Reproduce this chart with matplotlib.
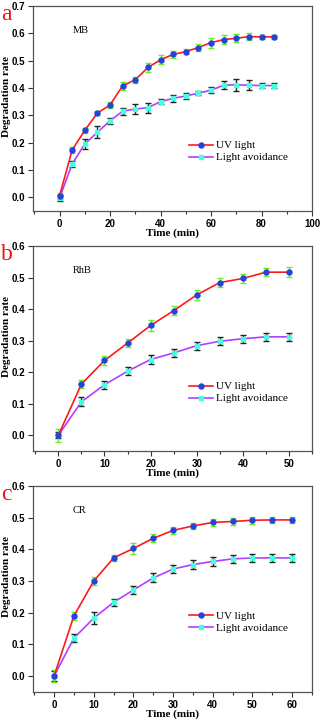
import matplotlib
matplotlib.use("Agg")
import matplotlib.pyplot as plt
from matplotlib.ticker import MultipleLocator, FormatStrFormatter
from matplotlib.lines import Line2D

# ---- data ----
t_a = [0, 5, 10, 15, 20, 25, 30, 35, 40, 45, 50, 55, 60, 65, 70, 75, 80, 85]
uv_a = [0.005, 0.173, 0.245, 0.308, 0.338, 0.408, 0.430, 0.475, 0.503, 0.523, 0.533, 0.548, 0.566, 0.577, 0.582, 0.588, 0.587, 0.587]
uv_a_err = [0.012, 0.012, 0.010, 0.008, 0.010, 0.015, 0.012, 0.018, 0.016, 0.012, 0.010, 0.014, 0.018, 0.016, 0.015, 0.012, 0.008, 0.008]
la_a = [-0.003, 0.122, 0.195, 0.238, 0.280, 0.315, 0.323, 0.328, 0.350, 0.362, 0.371, 0.381, 0.392, 0.410, 0.412, 0.410, 0.409, 0.409]
la_a_err = [0.012, 0.012, 0.018, 0.022, 0.012, 0.012, 0.018, 0.018, 0.010, 0.012, 0.010, 0.008, 0.012, 0.015, 0.022, 0.018, 0.010, 0.010]

t_b = [0, 5, 10, 15, 20, 25, 30, 35, 40, 45, 50]
uv_b = [0.0, 0.162, 0.237, 0.292, 0.348, 0.395, 0.445, 0.484, 0.497, 0.517, 0.517]
uv_b_err = [0.020, 0.012, 0.014, 0.013, 0.018, 0.014, 0.015, 0.013, 0.013, 0.013, 0.015]
la_b = [0.0, 0.106, 0.160, 0.203, 0.240, 0.261, 0.284, 0.298, 0.306, 0.312, 0.312]
la_b_err = [0.010, 0.014, 0.013, 0.013, 0.013, 0.012, 0.013, 0.012, 0.012, 0.012, 0.013]

t_c = [0, 5, 10, 15, 20, 25, 30, 35, 40, 45, 50, 55, 60]
uv_c = [0.0, 0.190, 0.300, 0.373, 0.403, 0.435, 0.460, 0.474, 0.485, 0.488, 0.492, 0.493, 0.493]
uv_c_err = [0.018, 0.012, 0.012, 0.010, 0.017, 0.013, 0.010, 0.010, 0.012, 0.011, 0.011, 0.009, 0.009]
la_c = [0.0, 0.120, 0.183, 0.233, 0.272, 0.310, 0.338, 0.352, 0.362, 0.370, 0.373, 0.373, 0.373]
la_c_err = [0.015, 0.012, 0.020, 0.012, 0.014, 0.014, 0.013, 0.013, 0.013, 0.013, 0.013, 0.014, 0.012]

labels = ["UV light", "Light avoidance"]
dyes = ["MB", "RhB", "CR"]
letters = ["a", "b", "c"]
xlabel = "Time (min)"
ylabel = "Degradation rate"

panels = [
    (t_a, uv_a, uv_a_err, la_a, la_a_err, (-10.5, 100), (-0.05, 0.7), 20, 0.29),
    (t_b, uv_b, uv_b_err, la_b, la_b_err, (-5.5, 55), (-0.05, 0.6), 10, 0.285),
    (t_c, uv_c, uv_c_err, la_c, la_c_err, (-5.3, 65), (-0.05, 0.6), 10, 0.34),
]

W, H = 321, 722
fig = plt.figure(figsize=(W / 100, H / 100), dpi=100)

# axes rectangles in pixels: left, top, right, bottom
rects = [(33, 6, 312, 211), (33, 246, 312, 451), (33, 486, 312, 692)]

serif = ["Liberation Serif", "DejaVu Serif"]
sans = ["Liberation Sans", "DejaVu Sans"]

RED, BLUE, GREEN = "#ff1a1a", "#2244dd", "#66ee22"
PURPLE, CYAN, BLACK = "#b040ff", "#44ffdd", "#222222"

for i, (rect, p) in enumerate(zip(rects, panels)):
    t, uv, uve, la, lae, xl, yl, xmaj, legy = p
    l, tp, r, b = rect
    ax = fig.add_axes([l / W, 1 - b / H, (r - l) / W, (b - tp) / H])
    ax.errorbar(t, uv, yerr=uve, color=RED, lw=1.2, marker="o", ms=3.6,
                mfc=BLUE, mec=BLUE, ecolor=GREEN, elinewidth=1.0,
                capsize=2, capthick=1.0, zorder=3)
    ax.errorbar(t, la, yerr=lae, color=PURPLE, lw=1.2, marker="s", ms=3.2,
                mfc=CYAN, mec=CYAN, ecolor=BLACK, elinewidth=1.0,
                capsize=2, capthick=1.0, zorder=2)
    ax.set_xlim(*xl)
    ax.set_ylim(*yl)
    ax.xaxis.set_major_locator(MultipleLocator(xmaj))
    ax.xaxis.set_minor_locator(MultipleLocator(xmaj / 2))
    ax.yaxis.set_major_locator(MultipleLocator(0.1))
    ax.yaxis.set_major_formatter(FormatStrFormatter("%.1f"))
    ax.tick_params(axis="both", which="both", direction="out", top=False, right=False,
                   width=0.8, color="#333333")
    ax.tick_params(which="major", length=3.5, labelsize=7, pad=2)
    ax.tick_params(which="minor", length=2)
    for lab in ax.get_xticklabels() + ax.get_yticklabels():
        lab.set_fontfamily(sans)
        lab.set_fontweight("bold")
    for s in ax.spines.values():
        s.set_color("#555555")
        s.set_linewidth(0.9)
    ax.set_xlabel(xlabel, family=serif, fontweight="bold", fontsize=8, labelpad=0)
    ax.set_ylabel(ylabel, family=serif, fontweight="bold", fontsize=8)
    ax.yaxis.set_label_coords(-0.078, 0.56)
    ax.text(0.143, 0.868, dyes[i], transform=ax.transAxes, family=serif, fontsize=7.5)
    handles = [
        Line2D([], [], color=RED, lw=1.2, marker="o", ms=3.6, mfc=BLUE, mec=BLUE),
        Line2D([], [], color=PURPLE, lw=1.2, marker="s", ms=3.2, mfc=CYAN, mec=CYAN),
    ]
    ax.legend(handles, labels, loc="center left", bbox_to_anchor=(0.56, legy),
              frameon=False, prop={"family": serif, "size": 8}, handlelength=2.1,
              handletextpad=0.3, labelspacing=0.2, borderpad=0, borderaxespad=0)
    fig.text(1 / W, 1 - (tp + 14) / H, letters[i], color="#ee1111", family=serif,
             fontsize=17, ha="left", va="baseline")

fig.savefig("out.png", dpi=100)
